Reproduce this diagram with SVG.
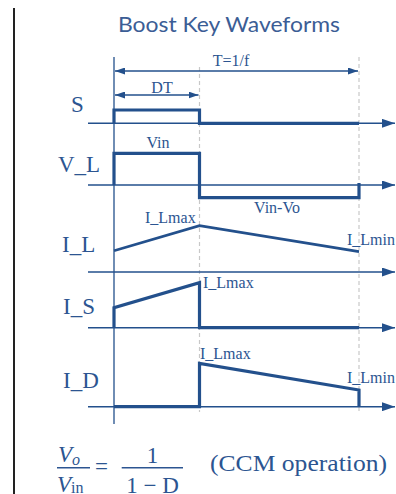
<svg xmlns="http://www.w3.org/2000/svg" width="396" height="494" viewBox="0 0 396 494">
<defs>
<style>
.ax{stroke:#23508c;stroke-width:1.4;fill:none}
.wv{stroke:#23508c;stroke-width:3.2;fill:none;stroke-linejoin:miter}
.gd{stroke:#c8c8c8;stroke-width:1.2;stroke-dasharray:4 3;fill:none}
.vl{stroke:#23508c;stroke-width:1.3;fill:none}
.lbl{font-family:"Liberation Serif","Times New Roman",serif;font-size:23px;fill:#2c5591}
.sm{font-family:"Liberation Serif","Times New Roman",serif;font-size:16px;fill:#2c5591}
.eq{font-family:"Liberation Serif","Times New Roman",serif;font-size:23px;fill:#2c5591}
</style>
<marker id="dimEnd" markerWidth="10" markerHeight="7" refX="10" refY="3.5" orient="auto" markerUnits="userSpaceOnUse">
<path d="M0,0 L10,3.5 L0,7 Z" fill="#23508c"/>
</marker>
<marker id="dimStart" markerWidth="10" markerHeight="7" refX="0" refY="3.5" orient="auto" markerUnits="userSpaceOnUse">
<path d="M10,0 L0,3.5 L10,7 Z" fill="#23508c"/>
</marker>
<marker id="axEnd" markerWidth="13" markerHeight="9" refX="13" refY="4.5" orient="auto" markerUnits="userSpaceOnUse">
<path d="M0,0 L13,4.5 L0,9 Z" fill="#23508c"/>
</marker>
</defs>
<rect width="396" height="494" fill="#ffffff"/>
<line x1="14" y1="8" x2="14" y2="494" stroke="#222" stroke-width="2"/>
<text x="118" y="32" font-family="Lato,'Open Sans',sans-serif" font-size="22" fill="#3b5d95" textLength="222" lengthAdjust="spacingAndGlyphs">Boost Key Waveforms</text>

<g id="guides">
<line class="vl" x1="114" y1="57" x2="114" y2="424"/>
<line class="gd" x1="199.5" y1="67" x2="199.5" y2="412"/>
<line class="gd" x1="359" y1="57" x2="359" y2="412"/>
</g>

<g id="connectors">
<line class="ax" x1="115" y1="71" x2="358" y2="71" marker-start="url(#dimStart)" marker-end="url(#dimEnd)"/>
<line class="ax" x1="115" y1="95" x2="198.5" y2="95" marker-start="url(#dimStart)" marker-end="url(#dimEnd)"/>
<line class="ax" x1="88" y1="123.3" x2="395" y2="123.3" marker-end="url(#axEnd)"/>
<line class="ax" x1="88" y1="185" x2="395" y2="185" marker-end="url(#axEnd)"/>
<line class="ax" x1="88" y1="272" x2="395" y2="272" marker-end="url(#axEnd)"/>
<line class="ax" x1="88" y1="327.7" x2="395" y2="327.7" marker-end="url(#axEnd)"/>
<line class="ax" x1="88" y1="406.7" x2="395" y2="406.7" marker-end="url(#axEnd)"/>
</g>

<g id="timing">
<text class="sm" x="231" y="66" text-anchor="middle">T=1/f</text>
<text class="sm" x="162" y="92.5" text-anchor="middle">DT</text>
</g>

<g id="S">
<text class="lbl" x="71" y="112">S</text>
<path class="wv" d="M114,123.3 V110 H199.5 V123.3 H359"/>
</g>

<g id="VL">
<text class="lbl" x="58" y="172.3">V_L</text>
<path class="wv" d="M114,185 V153.3 H199.5 V197.7 H359 V183"/>
<text class="sm" x="158" y="148.3" text-anchor="middle">Vin</text>
<text class="sm" x="277" y="213.3" text-anchor="middle">Vin-Vo</text>
</g>

<g id="IL">
<text class="lbl" x="62" y="251.7">I_L</text>
<path class="wv" style="stroke-width:2.7" d="M114,250.7 L199.5,225.7 L359,251.7"/>
<text class="sm" x="145" y="222.7">I_Lmax</text>
<text class="sm" x="347" y="245">I_Lmin</text>
</g>

<g id="IS">
<text class="lbl" x="63" y="314">I_S</text>
<path class="wv" d="M114,327.7 V307.7 L199.5,282.7 V327.7 H359"/>
<text class="sm" x="203" y="288">I_Lmax</text>
</g>

<g id="ID">
<text class="lbl" x="63" y="388.3">I_D</text>
<path class="wv" d="M114,406.7 H199.5 V363.3 L359,390 V406.7"/>
<text class="sm" x="200" y="359">I_Lmax</text>
<text class="sm" x="347" y="383">I_Lmin</text>
</g>

<g id="equation">
<text class="eq" x="58" y="462"><tspan font-style="italic">V</tspan><tspan font-style="italic" font-size="16" dy="3">o</tspan></text>
<line x1="57" y1="467.7" x2="90" y2="467.7" stroke="#2c5591" stroke-width="1.5"/>
<text class="eq" x="57" y="492"><tspan font-style="italic">V</tspan><tspan font-size="16" dy="1">in</tspan></text>
<text class="eq" x="95" y="474" font-size="26">=</text>
<text class="eq" x="152.5" y="463" text-anchor="middle">1</text>
<line x1="121.7" y1="467.7" x2="183" y2="467.7" stroke="#2c5591" stroke-width="1.5"/>
<text class="eq" x="152.5" y="493" text-anchor="middle">1 − D</text>
<text class="eq" x="210" y="471" font-size="22" textLength="177" lengthAdjust="spacingAndGlyphs">(CCM operation)</text>
</g>
</svg>
